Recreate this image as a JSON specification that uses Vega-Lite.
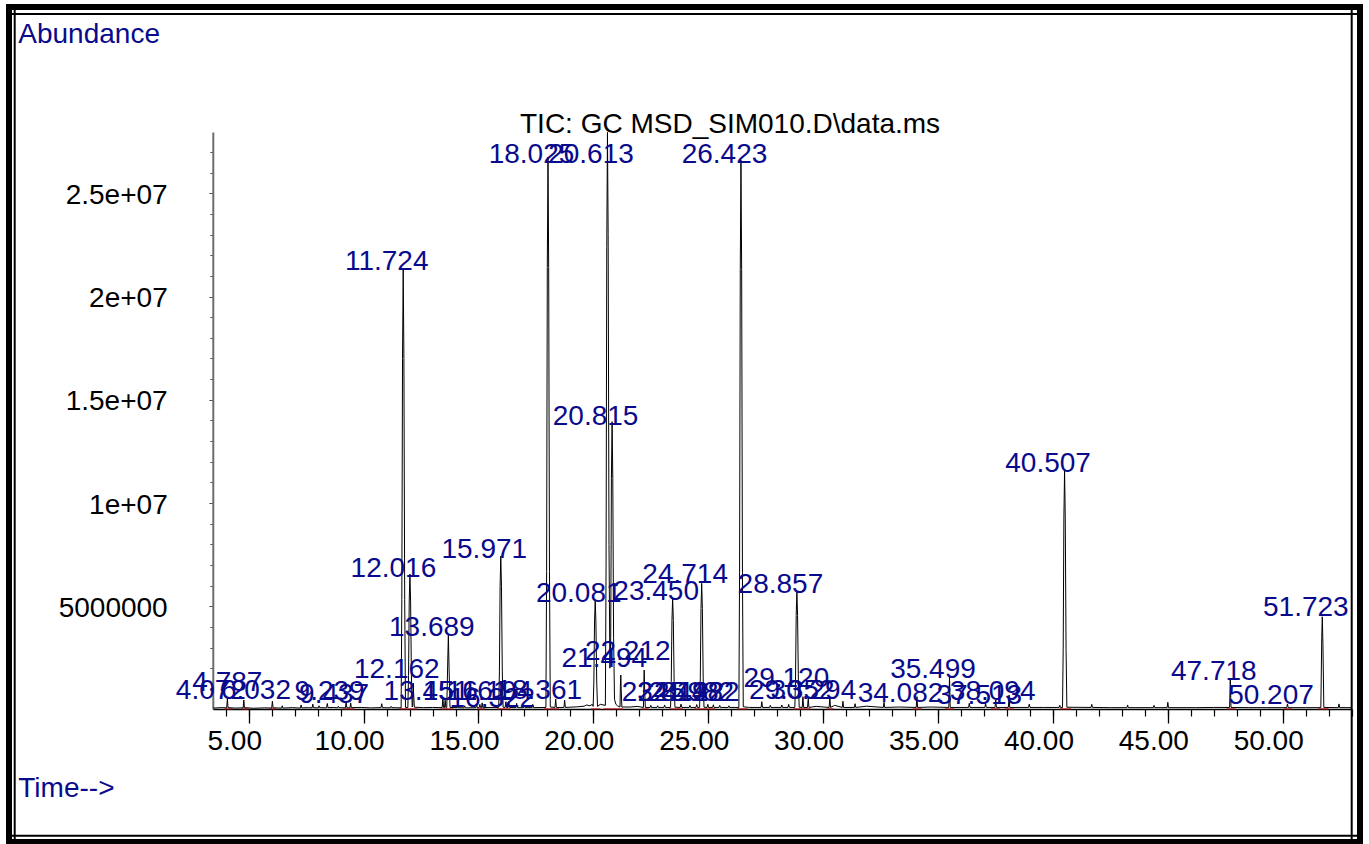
{
  "$schema": "https://vega.github.io/schema/vega-lite/v6.json",
  "width": 1351,
  "height": 835,
  "autosize": {"type": "none"},
  "padding": {"left": 9, "top": 7, "right": 9, "bottom": 2},
  "background": "white",
  "config": {
    "view": {"stroke": "black", "strokeWidth": 6, "fill": "white"},
    "font": "Liberation Sans",
    "axis": {"grid": false, "labelFont": "Liberation Sans", "titleFont": "Liberation Sans"},
    "text": {"font": "Liberation Sans"}
  },
  "datasets": {
    "one": [{"k": 1}],
    "trace": [
      {"t":3.46,"a":70000},{"t":3.8,"a":90000},{"t":4.04,"a":80000},{"t":4.072,"a":520000},{"t":4.1,"a":90000},
      {"t":4.4,"a":70000},{"t":4.76,"a":80000},{"t":4.787,"a":460000},{"t":4.815,"a":90000},{"t":5.2,"a":60000},
      {"t":5.7,"a":80000},{"t":6.0,"a":70000},{"t":6.032,"a":400000},{"t":6.06,"a":80000},{"t":6.43,"a":70000},
      {"t":6.46,"a":180000},{"t":6.49,"a":70000},{"t":6.9,"a":90000},{"t":7.25,"a":70000},{"t":7.28,"a":220000},
      {"t":7.31,"a":80000},{"t":7.6,"a":90000},{"t":7.76,"a":80000},{"t":7.79,"a":260000},{"t":7.82,"a":90000},
      {"t":8.03,"a":80000},{"t":8.06,"a":180000},{"t":8.09,"a":90000},{"t":8.39,"a":80000},{"t":8.42,"a":290000},
      {"t":8.45,"a":90000},{"t":8.7,"a":100000},{"t":8.87,"a":80000},{"t":8.9,"a":160000},{"t":8.93,"a":90000},
      {"t":9.21,"a":80000},{"t":9.239,"a":360000},{"t":9.27,"a":90000},{"t":9.41,"a":80000},{"t":9.437,"a":320000},
      {"t":9.47,"a":90000},{"t":9.9,"a":100000},{"t":10.3,"a":80000},{"t":10.76,"a":90000},{"t":10.79,"a":280000},
      {"t":10.82,"a":90000},{"t":11.17,"a":80000},{"t":11.2,"a":150000},{"t":11.23,"a":90000},
      {"t":11.634,"a":80000},{"t":11.664,"a":5330000},{"t":11.694,"a":17000000},{"t":11.724,"a":21300000},{"t":11.754,"a":17000000},{"t":11.789,"a":5330000},{"t":11.824,"a":100000},
      {"t":11.926,"a":100000},{"t":11.956,"a":1640000},{"t":11.986,"a":5250000},{"t":12.016,"a":6560000},{"t":12.046,"a":5250000},{"t":12.081,"a":1640000},{"t":12.116,"a":120000},
      {"t":12.14,"a":200000},{"t":12.152,"a":900000},{"t":12.162,"a":1280000},{"t":12.175,"a":800000},{"t":12.21,"a":110000},
      {"t":12.6,"a":90000},{"t":13.0,"a":100000},{"t":13.42,"a":90000},{"t":13.451,"a":600000},{"t":13.48,"a":100000},
      {"t":13.52,"a":90000},{"t":13.55,"a":450000},{"t":13.58,"a":90000},
      {"t":13.62,"a":90000},{"t":13.66,"a":2200000},{"t":13.689,"a":3610000},{"t":13.72,"a":2000000},{"t":13.76,"a":100000},
      {"t":14.1,"a":90000},{"t":14.37,"a":80000},{"t":14.4,"a":180000},{"t":14.43,"a":80000},{"t":14.89,"a":90000},
      {"t":14.92,"a":220000},{"t":14.95,"a":90000},{"t":15.03,"a":90000},{"t":15.06,"a":250000},{"t":15.09,"a":90000},
      {"t":15.13,"a":90000},{"t":15.161,"a":320000},{"t":15.19,"a":90000},{"t":15.5,"a":100000},
      {"t":15.881,"a":100000},{"t":15.911,"a":1860000},{"t":15.941,"a":5940000},{"t":15.971,"a":7430000},{"t":16.001,"a":5940000},{"t":16.036,"a":1860000},{"t":16.071,"a":110000},
      {"t":16.16,"a":100000},{"t":16.194,"a":380000},{"t":16.22,"a":100000},{"t":16.29,"a":100000},{"t":16.322,"a":400000},
      {"t":16.35,"a":100000},{"t":16.63,"a":90000},{"t":16.66,"a":300000},{"t":16.69,"a":90000},{"t":16.97,"a":90000},
      {"t":17.0,"a":200000},{"t":17.03,"a":90000},{"t":17.33,"a":90000},{"t":17.36,"a":250000},{"t":17.39,"a":90000},
      {"t":17.935,"a":100000},{"t":17.965,"a":6690000},{"t":17.995,"a":21400000},{"t":18.025,"a":26760000},{"t":18.055,"a":21400000},{"t":18.09,"a":6690000},{"t":18.125,"a":120000},
      {"t":18.33,"a":100000},{"t":18.361,"a":500000},{"t":18.39,"a":100000},{"t":18.72,"a":100000},{"t":18.75,"a":450000},
      {"t":18.78,"a":100000},{"t":19.3,"a":130000},{"t":19.6,"a":160000},{"t":19.7,"a":220000},{"t":19.85,"a":180000},{"t":19.95,"a":250000},
      {"t":19.991,"a":150000},{"t":20.021,"a":1330000},{"t":20.051,"a":4240000},{"t":20.081,"a":5300000},{"t":20.111,"a":4240000},{"t":20.146,"a":1330000},{"t":20.18,"a":150000},
      {"t":20.3,"a":250000},
      {"t":20.523,"a":200000},{"t":20.553,"a":6990000},{"t":20.583,"a":22360000},{"t":20.613,"a":27950000},{"t":20.643,"a":23000000},{"t":20.68,"a":8000000},{"t":20.72,"a":2000000},
      {"t":20.755,"a":3500000},{"t":20.785,"a":11200000},{"t":20.815,"a":13940000},{"t":20.845,"a":11200000},{"t":20.88,"a":3500000},{"t":20.92,"a":500000},{"t":20.98,"a":250000},
      {"t":21.05,"a":180000},{"t":21.16,"a":120000},{"t":21.175,"a":1100000},{"t":21.194,"a":1670000},{"t":21.21,"a":1000000},{"t":21.24,"a":120000},
      {"t":21.6,"a":120000},{"t":21.9,"a":150000},{"t":22.18,"a":100000},{"t":22.198,"a":1300000},{"t":22.212,"a":1910000},{"t":22.226,"a":1200000},{"t":22.26,"a":100000},
      {"t":22.47,"a":100000},{"t":22.5,"a":200000},{"t":22.53,"a":100000},{"t":22.77,"a":100000},{"t":22.8,"a":180000},{"t":22.83,"a":100000},
      {"t":23.07,"a":100000},{"t":23.1,"a":220000},{"t":23.13,"a":100000},
      {"t":23.36,"a":100000},{"t":23.39,"a":1350000},{"t":23.42,"a":4320000},{"t":23.45,"a":5400000},{"t":23.48,"a":4320000},{"t":23.515,"a":1350000},{"t":23.55,"a":110000},
      {"t":23.78,"a":100000},{"t":23.814,"a":260000},{"t":23.85,"a":100000},{"t":24.17,"a":100000},{"t":24.2,"a":200000},{"t":24.23,"a":100000},
      {"t":24.465,"a":100000},{"t":24.498,"a":240000},{"t":24.53,"a":100000},
      {"t":24.624,"a":100000},{"t":24.654,"a":1530000},{"t":24.684,"a":4890000},{"t":24.714,"a":6110000},{"t":24.744,"a":4890000},{"t":24.779,"a":1530000},{"t":24.814,"a":110000},
      {"t":24.95,"a":100000},{"t":24.982,"a":250000},{"t":25.01,"a":100000},{"t":25.19,"a":100000},{"t":25.222,"a":230000},{"t":25.25,"a":100000},
      {"t":25.47,"a":100000},{"t":25.5,"a":200000},{"t":25.53,"a":100000},
      {"t":25.87,"a":100000},{"t":25.9,"a":180000},{"t":25.93,"a":100000},
      {"t":26.333,"a":100000},{"t":26.363,"a":6650000},{"t":26.393,"a":21300000},{"t":26.423,"a":26610000},{"t":26.453,"a":21300000},{"t":26.488,"a":6650000},{"t":26.523,"a":130000},
      {"t":26.8,"a":100000},{"t":27.3,"a":100000},{"t":27.33,"a":380000},{"t":27.36,"a":100000},{"t":27.67,"a":100000},{"t":27.7,"a":200000},{"t":27.73,"a":100000},
      {"t":28.17,"a":100000},{"t":28.2,"a":220000},{"t":28.23,"a":100000},{"t":28.47,"a":100000},{"t":28.5,"a":250000},{"t":28.53,"a":100000},
      {"t":28.767,"a":100000},{"t":28.797,"a":1430000},{"t":28.827,"a":4560000},{"t":28.857,"a":5700000},{"t":28.887,"a":4560000},{"t":28.922,"a":1430000},{"t":28.957,"a":110000},
      {"t":29.09,"a":100000},{"t":29.12,"a":620000},{"t":29.15,"a":100000},{"t":29.32,"a":100000},{"t":29.352,"a":560000},{"t":29.38,"a":100000},
      {"t":29.7,"a":150000},{"t":30.26,"a":100000},{"t":30.294,"a":560000},{"t":30.32,"a":100000},{"t":30.5,"a":200000},
      {"t":30.83,"a":100000},{"t":30.86,"a":400000},{"t":30.89,"a":100000},{"t":31.36,"a":100000},{"t":31.39,"a":280000},{"t":31.42,"a":100000},
      {"t":31.9,"a":160000},{"t":32.62,"a":100000},{"t":32.65,"a":350000},{"t":32.68,"a":100000},{"t":33.3,"a":120000},
      {"t":34.05,"a":100000},{"t":34.082,"a":620000},{"t":34.11,"a":100000},{"t":34.7,"a":120000},
      {"t":35.47,"a":100000},{"t":35.499,"a":1590000},{"t":35.53,"a":100000},{"t":36.33,"a":100000},{"t":36.36,"a":300000},{"t":36.39,"a":100000},
      {"t":37.04,"a":100000},{"t":37.07,"a":300000},{"t":37.1,"a":100000},{"t":37.48,"a":100000},{"t":37.513,"a":460000},{"t":37.54,"a":100000},
      {"t":38.06,"a":100000},{"t":38.094,"a":700000},{"t":38.12,"a":100000},{"t":38.94,"a":100000},{"t":38.97,"a":260000},{"t":39.0,"a":100000},
      {"t":39.6,"a":100000},{"t":40.27,"a":100000},{"t":40.3,"a":200000},{"t":40.33,"a":100000},
      {"t":40.417,"a":100000},{"t":40.447,"a":2900000},{"t":40.477,"a":9280000},{"t":40.507,"a":11600000},{"t":40.537,"a":9280000},{"t":40.572,"a":2900000},{"t":40.607,"a":110000},
      {"t":41.66,"a":100000},{"t":41.69,"a":250000},{"t":41.72,"a":100000},{"t":42.5,"a":90000},{"t":43.22,"a":90000},{"t":43.25,"a":220000},{"t":43.28,"a":90000},
      {"t":44.37,"a":90000},{"t":44.4,"a":200000},{"t":44.43,"a":90000},{"t":44.97,"a":90000},{"t":45.0,"a":350000},{"t":45.03,"a":90000},
      {"t":46.2,"a":90000},{"t":47.0,"a":100000},{"t":47.69,"a":100000},{"t":47.718,"a":1480000},{"t":47.75,"a":100000},
      {"t":48.5,"a":90000},{"t":49.3,"a":90000},{"t":50.18,"a":90000},{"t":50.207,"a":270000},{"t":50.24,"a":90000},{"t":51.0,"a":90000},
      {"t":51.66,"a":90000},{"t":51.7,"a":3500000},{"t":51.723,"a":4490000},{"t":51.75,"a":3200000},{"t":51.79,"a":100000},
      {"t":52.42,"a":90000},{"t":52.45,"a":270000},{"t":52.48,"a":90000},{"t":53.0,"a":90000}
    ],
    "labels": [
      {"rt":4.072,"lab":"4.072","ly":509000},
      {"rt":4.787,"lab":"4.787","ly":896000},
      {"rt":6.032,"lab":"6.032","ly":509000},
      {"rt":9.239,"lab":"9.239","ly":460000},
      {"rt":9.437,"lab":"9.437","ly":315000},
      {"rt":11.724,"lab":"11.724","ly":21285000},
      {"rt":12.016,"lab":"12.016","ly":6417000},
      {"rt":12.162,"lab":"12.162","ly":1526000},
      {"rt":13.451,"lab":"13.451","ly":460000},
      {"rt":13.689,"lab":"13.689","ly":3560000},
      {"rt":15.161,"lab":"15.161","ly":460000},
      {"rt":15.971,"lab":"15.971","ly":7337000},
      {"rt":16.194,"lab":"16.194","ly":460000},
      {"rt":16.322,"lab":"16.322","ly":121000},
      {"rt":18.025,"lab":"18.025","ly":26468000},
      {"rt":18.361,"lab":"18.361","ly":490000},
      {"rt":20.081,"lab":"20.081","ly":5206000},
      {"rt":20.613,"lab":"20.613","ly":26468000},
      {"rt":20.815,"lab":"20.815","ly":13802000},
      {"rt":21.194,"lab":"21.494","ly":2058000},
      {"rt":22.212,"lab":"22.212","ly":2397000},
      {"rt":23.45,"lab":"23.450","ly":5303000},
      {"rt":23.814,"lab":"23.814","ly":410000},
      {"rt":24.498,"lab":"24.498","ly":410000},
      {"rt":24.714,"lab":"24.714","ly":6110000},
      {"rt":24.982,"lab":"24.982","ly":410000},
      {"rt":25.222,"lab":"25.222","ly":410000},
      {"rt":26.423,"lab":"26.423","ly":26468000},
      {"rt":28.857,"lab":"28.857","ly":5642000},
      {"rt":29.12,"lab":"29.120","ly":1090000},
      {"rt":29.352,"lab":"29.352","ly":530000},
      {"rt":30.294,"lab":"30.294","ly":530000},
      {"rt":34.082,"lab":"34.082","ly":363000},
      {"rt":35.499,"lab":"35.499","ly":1526000},
      {"rt":37.513,"lab":"37.513","ly":266000},
      {"rt":38.094,"lab":"38.094","ly":460000},
      {"rt":40.507,"lab":"40.507","ly":11502000},
      {"rt":47.718,"lab":"47.718","ly":1429000},
      {"rt":50.207,"lab":"50.207","ly":266000},
      {"rt":51.723,"lab":"51.723","ly":4528000}
    ],
    "ibase": [
      {"s":3.95,"e":4.3},{"s":4.7,"e":5.0},{"s":5.9,"e":6.2},{"s":9.1,"e":9.6},{"s":11.55,"e":12.35},
      {"s":13.35,"e":13.9},{"s":14.95,"e":15.3},{"s":15.8,"e":16.4},{"s":17.85,"e":18.5},{"s":19.9,"e":20.3},
      {"s":20.45,"e":21.3},{"s":22.1,"e":22.4},{"s":23.3,"e":23.9},{"s":24.4,"e":25.3},{"s":26.25,"e":26.7},
      {"s":28.7,"e":29.45},{"s":30.15,"e":30.45},{"s":33.9,"e":34.3},{"s":35.3,"e":35.7},{"s":37.3,"e":37.7},
      {"s":37.9,"e":38.3},{"s":40.3,"e":40.8},{"s":47.55,"e":47.95},{"s":50.05,"e":50.4},{"s":51.55,"e":52.0}
    ]
  },
  "resolve": {"axis": {"x": "independent", "y": "independent"}},
  "layer": [
    {
      "data": {"name": "one"},
      "mark": {"type": "rule", "color": "black", "strokeWidth": 1.5},
      "encoding": {
        "x": {"datum": 3.459, "type": "quantitative",
              "scale": {"domain": [-5.432, 53.364], "nice": false, "zero": false},
              "axis": {"orient": "bottom", "offset": -133, "domain": false, "grid": false,
                       "values": [5,10,15,20,25,30,35,40,45,50], "tickSize": 14, "tickColor": "black", "tickWidth": 1.3,
                       "labelFontSize": 28, "labelColor": "black", "labelOffset": -14.5, "labelPadding": 4.5,
                       "format": ".2f", "labelFlush": false, "labelOverlap": false, "labelBound": false, "title": null}},
        "x2": {"datum": 53.0},
        "y": {"datum": 0, "type": "quantitative",
              "scale": {"domain": [-6417000, 34023000], "nice": false, "zero": false},
              "axis": {"orient": "left", "offset": -203.8, "domain": false, "grid": false,
                       "values": [5000000, 10000000, 15000000, 20000000, 25000000], "tickSize": 4, "tickColor": "#555555", "tickWidth": 1,
                       "labelFontSize": 28, "labelColor": "black", "labelPadding": 41.6, "labelOffset": 2,
                       "labelExpr": "datum.value < 10000000 ? format(datum.value, 'd') : replace(format(datum.value, '.2~e'), 'e+7', 'e+07')",
                       "labelFlush": false, "labelOverlap": false, "labelBound": false, "title": null}}
      }
    },
    {
      "data": {"name": "one"},
      "mark": {"type": "rule", "color": "#6e6e6e", "strokeWidth": 2},
      "encoding": {
        "x": {"datum": 3.459, "type": "quantitative",
              "scale": {"domain": [-5.432, 53.364], "nice": false, "zero": false},
              "axis": {"orient": "bottom", "offset": -133, "domain": false, "grid": false,
                       "values": [4,5,6,7,8,9,10,11,12,13,14,15,16,17,18,19,20,21,22,23,24,25,26,27,28,29,30,31,32,33,34,35,36,37,38,39,40,41,42,43,44,45,46,47,48,49,50,51,52,53],
                       "tickSize": 7, "tickColor": "black", "tickWidth": 1.2, "labels": false, "title": null}},
        "y": {"datum": 0, "type": "quantitative",
              "scale": {"domain": [-6417000, 34023000], "nice": false, "zero": false},
              "axis": {"orient": "left", "offset": -203.8, "domain": false, "grid": false,
                       "values": [1000000,2000000,3000000,4000000,5000000,6000000,7000000,8000000,9000000,10000000,11000000,12000000,13000000,14000000,15000000,16000000,17000000,18000000,19000000,20000000,21000000,22000000,23000000,24000000,25000000,26000000,27000000],
                       "tickSize": 3, "tickColor": "#555555", "tickWidth": 1, "labels": false, "title": null}},
        "y2": {"datum": 27950000}
      }
    },
    {
      "data": {"name": "ibase"},
      "mark": {"type": "rule", "color": "#c01010", "strokeWidth": 1},
      "encoding": {
        "x": {"field": "s", "type": "quantitative", "scale": {"domain": [-5.432, 53.364], "nice": false, "zero": false}, "axis": null},
        "x2": {"field": "e"},
        "y": {"datum": 30000, "type": "quantitative", "scale": {"domain": [-6417000, 34023000], "nice": false, "zero": false}, "axis": null}
      }
    },
    {
      "data": {"name": "trace"},
      "mark": {"type": "line", "color": "black", "strokeWidth": 1, "interpolate": "linear"},
      "encoding": {
        "x": {"field": "t", "type": "quantitative",
              "scale": {"domain": [-5.432, 53.364], "nice": false, "zero": false},
              "axis": {"orient": "bottom", "offset": -6.8, "domain": true, "domainColor": "black", "domainWidth": 2,
                       "ticks": false, "labels": false, "grid": false,
                       "title": "Time-->", "titleX": 8.8, "titleY": -39, "titleAlign": "left", "titleBaseline": "alphabetic",
                       "titleAngle": 0, "titleFontSize": 28, "titleFontWeight": "normal", "titleColor": "#0a0a8c"}},
        "y": {"field": "a", "type": "quantitative",
              "scale": {"domain": [-6417000, 34023000], "nice": false, "zero": false},
              "axis": {"orient": "left", "offset": -5.2, "domain": true, "domainColor": "black", "domainWidth": 2,
                       "ticks": false, "labels": false, "grid": false,
                       "title": "Abundance", "titleX": 3.6, "titleY": 35.2, "titleAlign": "left", "titleBaseline": "alphabetic",
                       "titleAngle": 0, "titleFontSize": 28, "titleFontWeight": "normal", "titleColor": "#0a0a8c"}}
      }
    },
    {
      "data": {"name": "labels"},
      "mark": {"type": "text", "fontSize": 28, "color": "#0a0a8c", "align": "center", "baseline": "alphabetic", "dx": -16.5},
      "encoding": {
        "x": {"field": "rt", "type": "quantitative",
              "scale": {"domain": [-5.432, 53.364], "nice": false, "zero": false},
              "axis": {"orient": "top", "offset": -6.5, "domain": true, "domainColor": "black", "domainWidth": 2,
                       "ticks": false, "labels": false, "grid": false,
                       "title": "TIC: GC MSD_SIM010.D\\data.ms", "titleX": 510.5, "titleY": 119, "titleAlign": "left", "titleBaseline": "alphabetic",
                       "titleAngle": 0, "titleFontSize": 28, "titleFontWeight": "normal", "titleColor": "black"}},
        "y": {"field": "ly", "type": "quantitative",
              "scale": {"domain": [-6417000, 34023000], "nice": false, "zero": false},
              "axis": {"orient": "right", "offset": -8.8, "domain": true, "domainColor": "black", "domainWidth": 2,
                       "ticks": false, "labels": false, "grid": false, "title": null}},
        "text": {"field": "lab"}
      }
    }
  ]
}
